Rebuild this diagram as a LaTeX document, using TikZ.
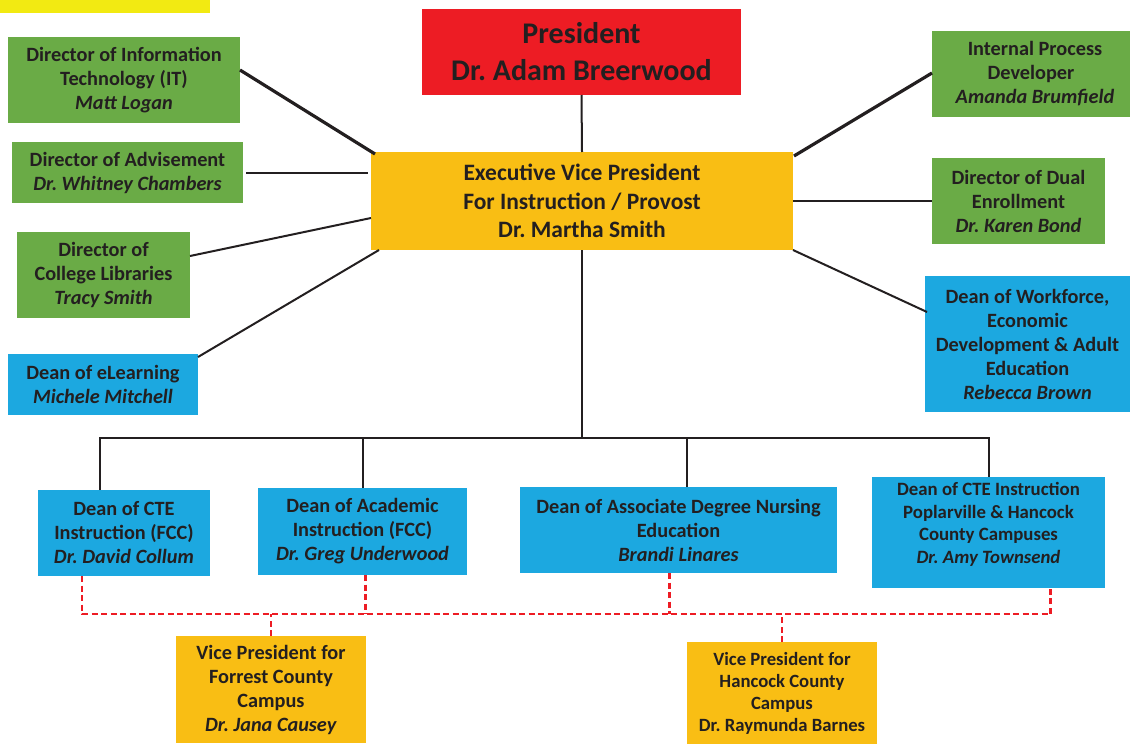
\documentclass[tikz,border=0pt]{standalone}
\usepackage{fontspec}
\setmainfont{Carlito}
\usepackage{tikz}
\usetikzlibrary{calc}
\frenchspacing

\definecolor{orgred}{HTML}{ED1C24}
\definecolor{orggold}{HTML}{F9BE14}
\definecolor{orggreen}{HTML}{6AAB46}
\definecolor{orgblue}{HTML}{1CA8E0}
\definecolor{orgyellow}{HTML}{F2EA12}
\definecolor{orgtext}{HTML}{231F20}

\begin{document}
\begin{tikzpicture}[x=1pt, y=-1pt, inner sep=0pt, outer sep=0pt,
    box/.style={anchor=north west, align=center, text=orgtext,
        font=\fontsize{20.3}{24}\selectfont\bfseries},
    smallbox/.style={box, font=\fontsize{18.8}{22.5}\selectfont\bfseries},
    link/.style={draw=orgtext, line width=2pt},
    thicklink/.style={draw=orgtext, line width=3.2pt},
    campus/.style={draw=orgred, line width=2.3pt, dash pattern=on 6pt off 3.5pt}]
    \useasboundingbox (0,0) rectangle (1130,744);

    % banner (cut off at the top)
    \fill[orgyellow] (0,0) rectangle (210,13);

    % president and provost
    \node[box, fill=orgred, minimum width=319pt, minimum height=86pt,
        font=\fontsize{30}{37}\selectfont\bfseries] (pres) at (422,9)
    {President\\Dr. Adam Breerwood};
    \node[box, fill=orggold, minimum width=422pt, minimum height=98pt,
        font=\fontsize{23.5}{28.5}\selectfont\bfseries] (evp) at (371,152)
    {Executive Vice President\\For Instruction / Provost\\Dr. Martha Smith};

    % left column
    \node[box, fill=orggreen, minimum width=232pt, minimum height=86pt] (dir_it) at (8,37)
    {Director of Information\\Technology (IT)\\\textit{Matt Logan}};
    \node[box, fill=orggreen, minimum width=231pt, minimum height=61pt] (dir_adv) at (12,142)
    {Director of Advisement\\\textit{Dr. Whitney Chambers}};
    \node[box, fill=orggreen, minimum width=173pt, minimum height=86pt] (dir_lib) at (17,232)
    {Director of\\College Libraries\\\textit{Tracy Smith}};
    \node[box, fill=orgblue, minimum width=190pt, minimum height=61pt] (dean_el) at (8,354)
    {Dean of eLearning\\\textit{Michele Mitchell}};

    % right column
    \node[box, fill=orggreen, minimum width=198pt, minimum height=86pt] (ipd) at (932,31)
    {\hspace*{8pt}Internal Process\\Developer\\\hspace*{8pt}\textit{Amanda Brumfield}};
    \node[box, fill=orggreen, minimum width=173pt, minimum height=86pt] (dir_dual) at (932,158)
    {Director of Dual\\Enrollment\\\textit{Dr. Karen Bond}};
    \node[box, fill=orgblue, minimum width=205pt, minimum height=136pt] (dean_wf) at (925,276)
    {Dean of Workforce,\\Economic\\Development \& Adult\\Education\\\textit{Rebecca Brown}};

    % deans row
    \node[box, fill=orgblue, minimum width=172pt, minimum height=86pt] (cte_fcc) at (38,490)
    {Dean of CTE\\Instruction (FCC)\\\textit{Dr. David Collum}};
    \node[box, fill=orgblue, minimum width=209pt, minimum height=87pt] (acad_fcc) at (258,488)
    {Dean of Academic\\Instruction (FCC)\\\textit{Dr. Greg Underwood}};
    \node[box, fill=orgblue, minimum width=317pt, minimum height=86pt] (adn) at (520,487)
    {Dean of Associate Degree Nursing\\Education\\\textit{Brandi Linares}};
    \node[smallbox, fill=orgblue, minimum width=233pt, minimum height=111pt] (cte_pop) at (872,477)
    {Dean of CTE Instruction\\Poplarville \& Hancock\\County Campuses\\\textit{Dr. Amy Townsend}\\[-3pt]};

    % campus vice presidents
    \node[box, fill=orggold, minimum width=190pt, minimum height=107pt] (vp_fcc) at (176,636)
    {Vice President for\\Forrest County\\Campus\\\textit{Dr. Jana Causey}};
    \node[box, fill=orggold, minimum width=190pt, minimum height=102pt,
        font=\fontsize{18.7}{22}\selectfont\bfseries] (vp_hcc) at (687,642)
    {Vice President for\\Hancock County\\Campus\\Dr. Raymunda Barnes};

    % lines to provost
    \draw[link] (pres.south) -- (evp.north);
    \draw[thicklink] ($(dir_it.east)+(0,-10)$) -- ($(evp.north west)+(4,2)$);
    \draw[link] ($(dir_adv.east)+(3,0)$) -- ($(dir_adv.east -| evp.west)+(-3,0)$);
    \draw[link] ($(dir_lib.east)+(0,-19)$) -- ($(evp.west)+(0,17)$);
    \draw[link] ($(dean_el.north east)+(0,3)$) -- ($(evp.south west)+(8,0)$);
    \draw[thicklink] ($(evp.north east)+(1,4)$) -- ($(ipd.west)+(0,-1)$);
    \draw[link] (evp.east) -- (dir_dual.west);
    \draw[link] (evp.south east) -- ($(dean_wf.west)+(2,-32)$);

    % bus to the deans
    \coordinate (bus) at (583,438);
    \coordinate (cte_fcc_top) at ($(cte_fcc.north)+(-24,0)$);
    \coordinate (adn_top) at ($(adn.north)+(8,0)$);
    \draw[link] (evp.south) -- (evp.south |- bus);
    \draw[link] (cte_fcc_top) |- (cte_pop.north |- bus) -- (cte_pop.north);
    \draw[link] (acad_fcc.north) -- (acad_fcc.north |- bus);
    \draw[link] (adn_top) -- (adn_top |- bus);

    % dashed campus lines
    \coordinate (cbus) at (583,614);
    \coordinate (cte_fcc_bot) at ($(cte_fcc.south)+(-42,0)$);
    \coordinate (acad_fcc_bot) at ($(acad_fcc.south)+(3,0)$);
    \coordinate (adn_bot) at ($(adn.south)+(-9,0)$);
    \coordinate (cte_pop_bot) at ($(cte_pop.south)+(62,0)$);
    \draw[campus] (cte_fcc_bot) |- (cte_pop_bot |- cbus) -- (cte_pop_bot);
    \draw[campus] (acad_fcc_bot) -- (acad_fcc_bot |- cbus);
    \draw[campus] (adn_bot) -- (adn_bot |- cbus);
    \draw[campus] (vp_fcc.north) -- (vp_fcc.north |- cbus);
    \draw[campus] (vp_hcc.north) -- (vp_hcc.north |- cbus);

\end{tikzpicture}
\end{document}
